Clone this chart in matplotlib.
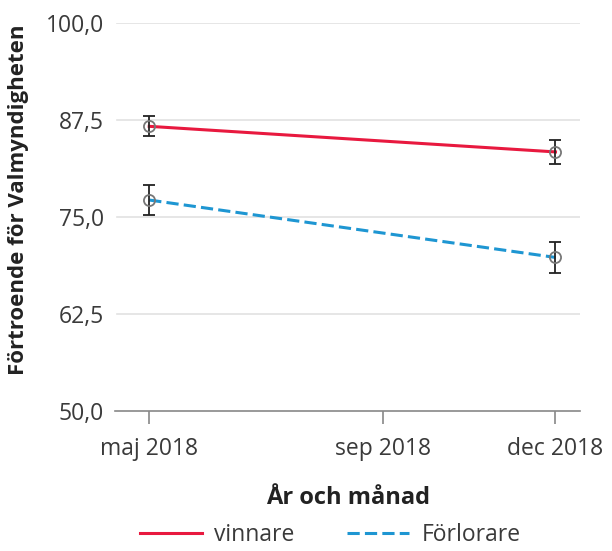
import datetime as dt

import matplotlib
matplotlib.use("Agg")
import matplotlib.pyplot as plt
import matplotlib.dates as mdates
from matplotlib.lines import Line2D

# data
dates = [dt.date(2018, 5, 1), dt.date(2018, 12, 1)]
vinnare = [86.7, 83.4]
vinnare_err = [1.3, 1.5]
forlorare = [77.2, 69.8]
forlorare_err = [1.9, 2.0]

tick_dates = [dt.date(2018, 5, 1), dt.date(2018, 9, 1), dt.date(2018, 12, 1)]
tick_labels = ["maj 2018", "sep 2018", "dec 2018"]
y_ticks = [50.0, 62.5, 75.0, 87.5, 100.0]

RED = "#e8193f"
BLUE = "#1e96d2"
TEXT = "#3a3a3a"
DASH = (0, (4, 1.7))

plt.rcParams.update({
    "font.family": ["Open Sans", "DejaVu Sans"],
    "font.size": 16.5,
})

fig = plt.figure(figsize=(6.12, 5.51), dpi=100)
ax = fig.add_axes([0.188, 0.254, 0.760, 0.704])

ax.plot(dates, vinnare, color=RED, lw=2.2, zorder=3)
ax.plot(dates, forlorare, color=BLUE, lw=2.2, ls=DASH, zorder=3)

for vals, errs in [(vinnare, vinnare_err), (forlorare, forlorare_err)]:
    ax.errorbar(dates, vals, yerr=errs, fmt="o", ms=8, mfc="none",
                mec="#777777", mew=1.3, ecolor="#222222", elinewidth=1.3,
                capsize=4, capthick=1.3, zorder=4)

ax.set_ylim(50, 100)
ax.set_xlim(dt.date(2018, 4, 13), dt.date(2018, 12, 14))
ax.set_yticks(y_ticks)
ax.set_yticklabels([f"{v:.1f}".replace(".", ",") for v in y_ticks], color=TEXT)
ax.set_xticks([mdates.date2num(d) for d in tick_dates])
ax.set_xticklabels(tick_labels, color=TEXT)

for v in y_ticks[1:]:
    ax.axhline(v, xmin=0.005, color="#e2e2e2", lw=1.2, zorder=1)

for s in ["top", "right", "left"]:
    ax.spines[s].set_visible(False)
ax.spines["bottom"].set_color("#888888")
ax.spines["bottom"].set_linewidth(1.2)
ax.tick_params(axis="y", length=0, pad=8)
ax.tick_params(axis="x", length=9, width=1.2, color="#888888", pad=10)

ax.set_xlabel("År och månad", fontweight="bold", color="#222222", fontsize=17,
              labelpad=18)
ax.set_ylabel("Förtroende för Valmyndigheten", fontweight="bold", color="#222222",
              fontsize=16)
ax.yaxis.set_label_coords(-0.185, 0.545)

handles = [Line2D([], [], color=RED, lw=2.2),
           Line2D([], [], color=BLUE, lw=2.2, ls=DASH)]
fig.legend(handles, ["vinnare", "Förlorare"], loc="lower center",
           bbox_to_anchor=(0.54, -0.03), ncol=2, frameon=False,
           handlelength=2.7, columnspacing=2.3, handletextpad=0.55,
           labelcolor=TEXT)

fig.savefig("out.png", dpi=100)
